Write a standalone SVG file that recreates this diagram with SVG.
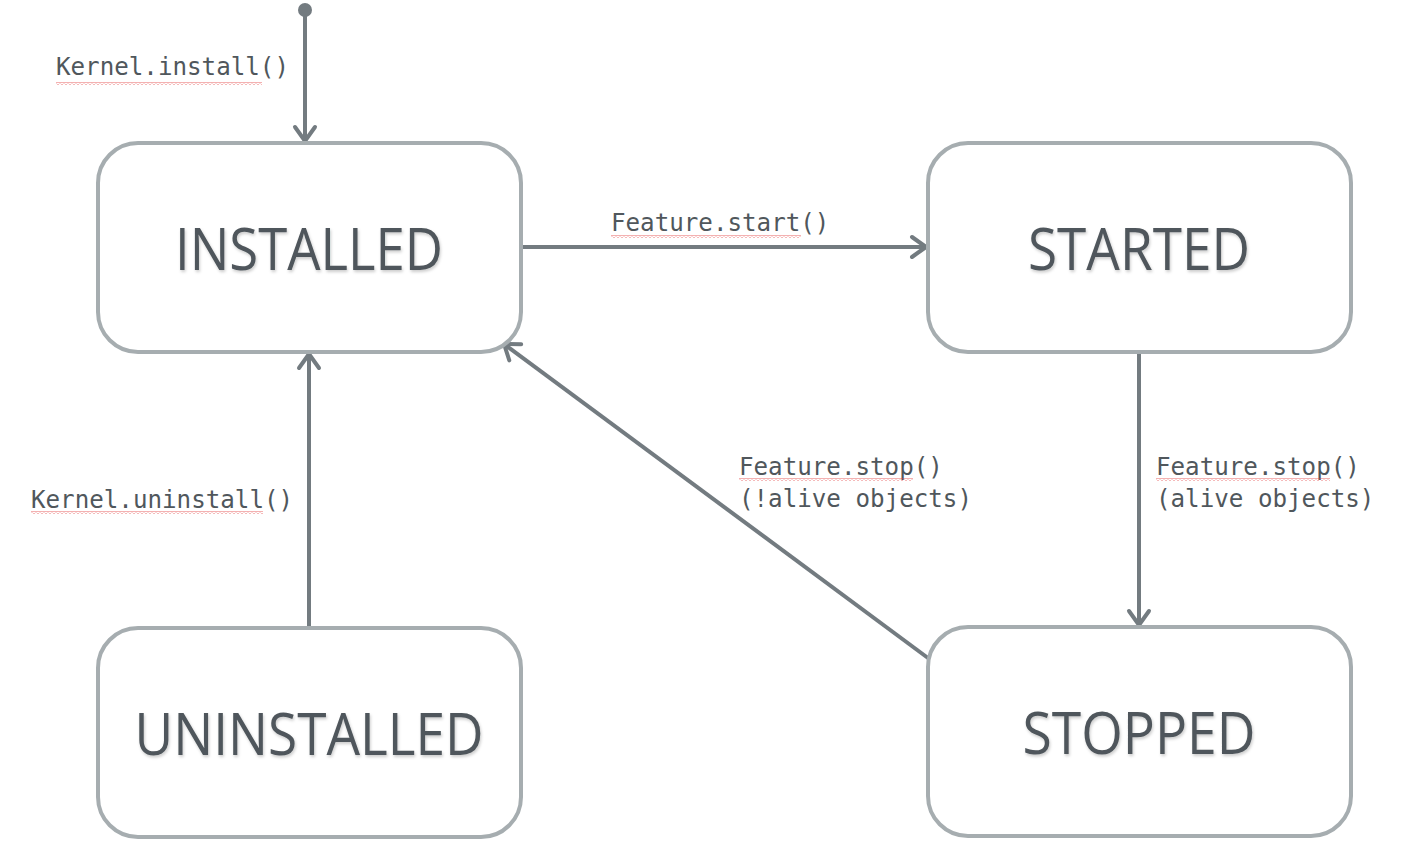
<svg xmlns="http://www.w3.org/2000/svg" width="1403" height="843" viewBox="0 0 1403 843">
<style>
.box{fill:#fff;stroke:#A6ADB0;stroke-width:4}
.title{font-family:"Open Sans","Noto Sans",sans-serif;font-size:58px;fill:#50575C;text-anchor:middle}
.lbl{font-family:"DejaVu Sans Mono","Liberation Mono",monospace;font-size:24.2px;fill:#50575C}
.edge{stroke:#737B80;stroke-width:4;fill:none}
</style>
<defs>
<marker id="arr" markerUnits="userSpaceOnUse" markerWidth="30" markerHeight="30" viewBox="0 0 30 30" refX="24" refY="15" orient="auto">
<path d="M10,5 L24,15 L10,25" fill="none" stroke="#737B80" stroke-width="4" stroke-linecap="round" stroke-linejoin="round"/>
</marker>
<pattern id="sq" width="4" height="3" patternUnits="userSpaceOnUse">
<path d="M0,2.5 L2,0.5 L4,2.5" fill="none" stroke="#E23B3B" stroke-width="0.8"/>
</pattern>
<filter id="sh" x="-5%" y="-10%" width="110%" height="130%">
<feDropShadow dx="1" dy="2" stdDeviation="1.5" flood-color="#000" flood-opacity="0.2"/>
</filter>
</defs>
<g id="connectors">
<circle cx="305" cy="10" r="7" fill="#737B80"/>
<line class="edge" x1="305" y1="12" x2="305" y2="141" marker-end="url(#arr)"/>
<line class="edge" x1="521" y1="247" x2="926" y2="247" marker-end="url(#arr)"/>
<line class="edge" x1="309" y1="628" x2="309" y2="354" marker-end="url(#arr)"/>
<line class="edge" x1="1139" y1="352" x2="1139" y2="625" marker-end="url(#arr)"/>
<line class="edge" x1="928" y1="658" x2="504" y2="344" marker-end="url(#arr)"/>
<g id="labels">
<text class="lbl" x="56" y="75">Kernel.install()</text>
<rect x="56" y="82" width="206" height="3" fill="url(#sq)"/>
<text class="lbl" x="611" y="231">Feature.start()</text>
<rect x="611" y="235" width="190" height="3" fill="url(#sq)"/>
<text class="lbl" x="31" y="508">Kernel.uninstall()</text>
<rect x="31" y="511" width="232" height="3" fill="url(#sq)"/>
<text class="lbl" x="739" y="475">Feature.stop()</text>
<rect x="739" y="478" width="174" height="3" fill="url(#sq)"/>
<text class="lbl" x="739" y="507">(!alive objects)</text>
<text class="lbl" x="1156" y="475">Feature.stop()</text>
<rect x="1156" y="478" width="174" height="3" fill="url(#sq)"/>
<text class="lbl" x="1156" y="507">(alive objects)</text>
</g>
</g>
<g id="installed">
<rect class="box" x="98" y="143" width="423" height="209" rx="40"/>
<text class="title" x="309" y="270" textLength="268" lengthAdjust="spacingAndGlyphs" filter="url(#sh)">INSTALLED</text>
</g>
<g id="started">
<rect class="box" x="928" y="143" width="423" height="209" rx="40"/>
<text class="title" x="1139" y="270" textLength="222" lengthAdjust="spacingAndGlyphs" filter="url(#sh)">STARTED</text>
</g>
<g id="uninstalled">
<rect class="box" x="98" y="628" width="423" height="209" rx="40"/>
<text class="title" x="309" y="755" textLength="349" lengthAdjust="spacingAndGlyphs" filter="url(#sh)">UNINSTALLED</text>
</g>
<g id="stopped">
<rect class="box" x="928" y="627" width="423" height="209" rx="40"/>
<text class="title" x="1139" y="754" textLength="233" lengthAdjust="spacingAndGlyphs" filter="url(#sh)">STOPPED</text>
</g>
</svg>
